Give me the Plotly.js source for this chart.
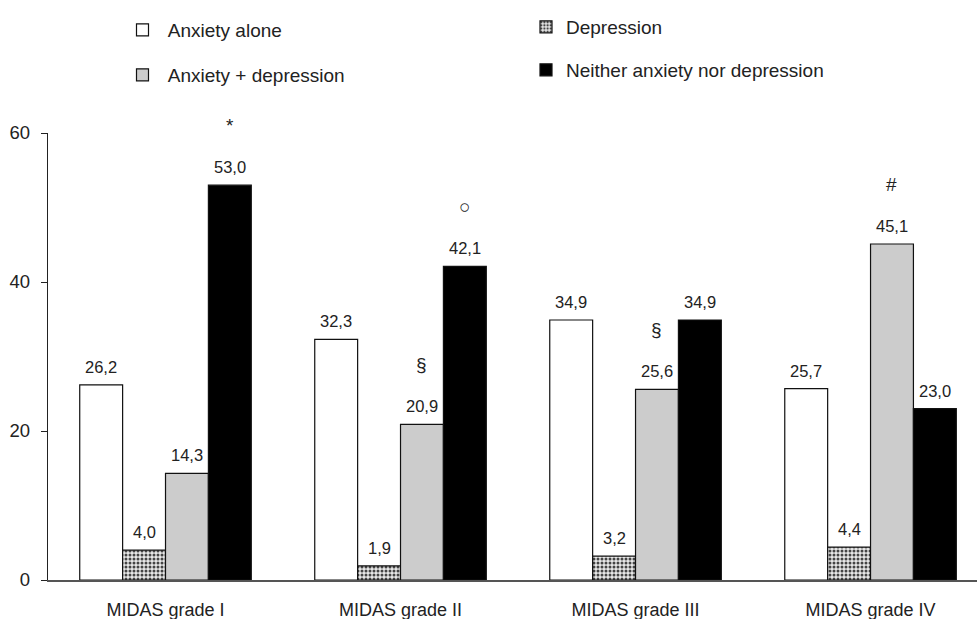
<!DOCTYPE html>
<html>
<head>
<meta charset="utf-8">
<script src="https://cdn.plot.ly/plotly-3.0.1.min.js"></script>
<style>html,body{margin:0;padding:0;background:#fff;}#chart{width:977px;height:619px;}</style>
</head>
<body>
<div id="chart"></div>
<script>
const categories = ["MIDAS grade I", "MIDAS grade II", "MIDAS grade III", "MIDAS grade IV"];
const seriesNames = ["Anxiety alone", "Depression", "Anxiety + depression", "Neither anxiety nor depression"];
const anxietyAlone = [26.2, 32.3, 34.9, 25.7];
const depression = [4.0, 1.9, 3.2, 4.4];
const anxietyDepression = [14.3, 20.9, 25.6, 45.1];
const neither = [53.0, 42.1, 34.9, 23.0];
const yTicks = [0, 20, 40, 60];
// significance marks: category index, series index, symbol
const markCategory = [0, 1, 1, 2, 3];
const markSeries = [3, 3, 2, 2, 2];
const markSymbol = ["*", "○", "§", "§", "#"];

const seriesValues = [anxietyAlone, depression, anxietyDepression, neither];
const font = "Liberation Sans, Arial, sans-serif";
const txtColor = "#222";
const bargap = 0.27;
const nSeries = 4;
const barW = (1 - bargap) / nSeries;
const catIdx = categories.map((c, i) => i);

const styles = [
  {color: "#ffffff", legend: "legend", prefix: "\u00a0"},
  {color: "#ffffff", legend: "legend2", prefix: "", pattern: {shape: ".", fgcolor: "#444", bgcolor: "#e8e8e8", size: 4, solidity: 0.45}},
  {color: "#cccccc", legend: "legend3", prefix: "\u00a0"},
  {color: "#000000", legend: "legend4", prefix: ""}
];

const data = seriesValues.map((vals, k) => {
  const st = styles[k];
  const marker = {color: st.color, line: {color: "#111", width: 1.2}};
  if (st.pattern) marker.pattern = st.pattern;
  return {
    type: "bar", name: st.prefix + seriesNames[k], x: catIdx, y: vals,
    marker: marker, legend: st.legend, hoverinfo: "skip", textposition: "none"
  };
});

const annotations = [];
seriesValues.forEach((vals, k) => {
  vals.forEach((v, i) => {
    annotations.push({
      x: i + (k - (nSeries - 1) / 2) * barW, y: v, xref: "x", yref: "y",
      text: v.toFixed(1).replace(".", ","), showarrow: false,
      yanchor: "middle", yshift: 18,
      font: {family: font, size: 16.5, color: txtColor}
    });
  });
});
markSymbol.forEach((s, i) => {
  annotations.push({
    x: markCategory[i] + (markSeries[i] - (nSeries - 1) / 2) * barW,
    y: seriesValues[markSeries[i]][markCategory[i]],
    xref: "x", yref: "y", text: s, showarrow: false,
    yanchor: "middle", yshift: 60,
    font: {family: font, size: 19, color: txtColor}
  });
});

const pw = 977 - 48, ph = 619 - 133 - 39;
function px2paperX(px) { return (px - 48) / pw; }
function px2paperY(py) { return (619 - 39 - py) / ph; }
function legendAt(px, py) {
  return {
    x: px2paperX(px), y: px2paperY(py), xanchor: "left", yanchor: "middle",
    font: {family: font, size: 19, color: txtColor}, itemwidth: 30,
    bgcolor: "rgba(0,0,0,0)"
  };
}

const layout = {
  width: 977, height: 619,
  margin: {l: 48, r: 0, t: 133, b: 39},
  paper_bgcolor: "#fff", plot_bgcolor: "#fff",
  barmode: "group", bargap: bargap, bargroupgap: 0,
  font: {family: font, color: txtColor},
  xaxis: {
    range: [-0.5, 3.453], tickvals: catIdx, ticktext: categories,
    showline: true, linecolor: "#555", linewidth: 1.5, ticks: "",
    showgrid: false, zeroline: false,
    tickfont: {family: font, size: 18, color: txtColor}, ticklabelstandoff: 13
  },
  yaxis: {
    range: [0, 60], tickvals: yTicks, showline: true, linecolor: "#222", linewidth: 1.3,
    ticks: "outside", ticklen: 6, tickcolor: "#222", showgrid: false, zeroline: false,
    tickfont: {family: font, size: 18.5, color: txtColor}, ticklabelstandoff: 7
  },
  showlegend: true,
  legend: legendAt(122.5, 30),
  legend3: legendAt(122.5, 75),
  legend2: legendAt(526, 27),
  legend4: legendAt(526, 70),
  annotations: annotations
};

Plotly.newPlot("chart", data, layout, {displayModeBar: false, staticPlot: true});
</script>
</body>
</html>
